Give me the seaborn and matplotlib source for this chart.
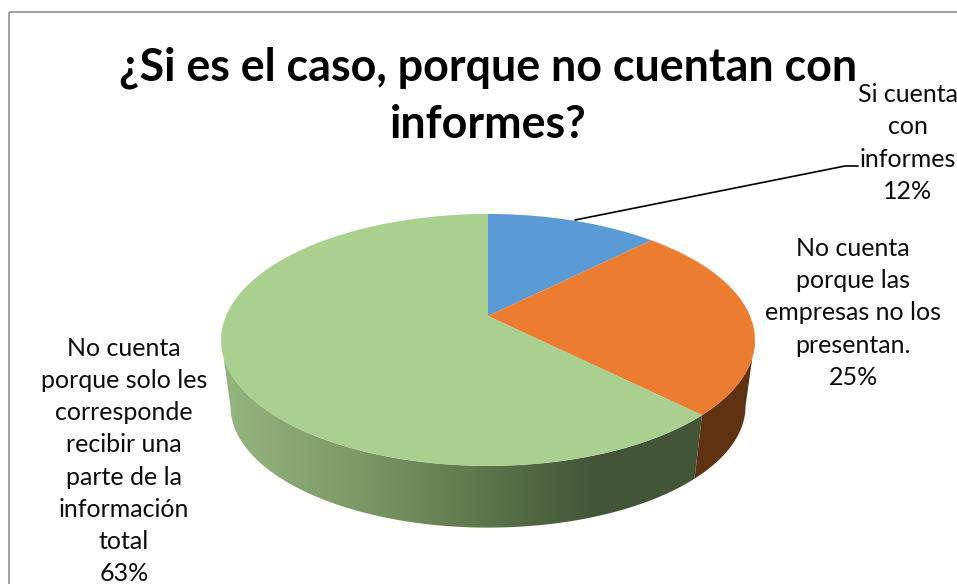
import numpy as np
import matplotlib
matplotlib.use('Agg')
import matplotlib.pyplot as plt
from matplotlib.colors import LinearSegmentedColormap
from matplotlib.patches import Polygon, Rectangle
import seaborn as sns

# Datos de la grafica
categorias = ['Si cuenta\ncon\ninformes',
              'No cuenta\nporque las\nempresas no los\npresentan.',
              'No cuenta\nporque solo les\ncorresponde\nrecibir una\nparte de la\ninformación\ntotal']
valores = [12.5, 25, 62.5]
etiquetas_pct = ['12%', '25%', '63%']
titulo = '¿Si es el caso, porque no cuentan con\ninformes?'

colores = sns.color_palette(['#5b9bd5', '#eb7c30', '#a9d08e'])
color_lado_naranja = '#5f3212'
degradado_verde = ['#95b57f', '#7f9c68', '#5f7a4e', '#435537', '#435537']

sns.set_theme(style='white')
plt.rcParams['font.family'] = ['Lato', 'DejaVu Sans']

# Perspectiva del disco (en pixeles de la imagen)
CX, CY = 488, 316
RX, RY, K = 262, 121.4, 0.19
ESCALA_BASE, DY_BASE = 0.965, 67


def punto(angulo, escala=1.0, dy=0.0):
    # angulo en radianes, desde las 12 en sentido horario
    x, y = np.sin(angulo), np.cos(angulo)
    w = 1 + K * y
    return CX + escala * RX * x / w, CY + dy - escala * RY * y / w


def arco(a0, a1, escala=1.0, dy=0.0):
    t = np.linspace(a0, a1, 200)
    return np.column_stack(punto(t, escala, dy))


fig = plt.figure(figsize=(9.57, 5.84), dpi=100)
ax = fig.add_axes([0, 0, 1, 1])

fracciones = np.cumsum([0] + valores) / sum(valores) * 2 * np.pi

# Pared lateral, desde donde el disco es mas ancho
a2 = fracciones[2]
a_der = np.arccos(-K)
a_izq = 2 * np.pi - a_der
lado_naranja = np.vstack([arco(a_der, a2), arco(a2, a_der, ESCALA_BASE, DY_BASE)])
ax.add_patch(Polygon(lado_naranja, closed=True, fc=color_lado_naranja, ec='none', zorder=1))

lado_verde = np.vstack([arco(a2, a_izq), arco(a_izq, a2, ESCALA_BASE, DY_BASE)])
poligono = Polygon(lado_verde, closed=True, fc='none', ec='none', zorder=1)
ax.add_patch(poligono)
cmap = LinearSegmentedColormap.from_list('lado', degradado_verde)
img = ax.imshow(np.linspace(0, 1, 256)[None, :], cmap=cmap, aspect='auto',
                extent=(222, 720, 530, 300), zorder=1)
img.set_clip_path(poligono)

# Cara superior
for i in range(3):
    cuna = np.vstack([[CX, CY], arco(fracciones[i], fracciones[i + 1])])
    ax.add_patch(Polygon(cuna, closed=True, fc=colores[i], ec='none', zorder=2))

# Linea guia de la primera etiqueta
ax.plot([575, 845, 858], [220, 166, 166], color='black', lw=1.2, zorder=3)

# Textos
ax.text(488, 96.5, titulo, ha='center', va='center', fontsize=32.3, fontweight='bold',
        color='black', linespacing=1.43)
pos_etiquetas = [(908, 143), (853, 313), (124, 461)]
for cat, pct, (x, y) in zip(categorias, etiquetas_pct, pos_etiquetas):
    ax.text(x, y, f'{cat}\n{pct}', ha='center', va='center', fontsize=18,
            color='#0d0d0d', linespacing=1.48)

# Borde del grafico
ax.add_patch(Rectangle((9, 12), 1000, 1000, fc='none', ec='#999999', lw=1.3, zorder=4))

ax.set_xlim(0, 957)
ax.set_ylim(584, 0)
ax.axis('off')

fig.savefig('out.png', dpi=100, facecolor='white')
plt.close()
